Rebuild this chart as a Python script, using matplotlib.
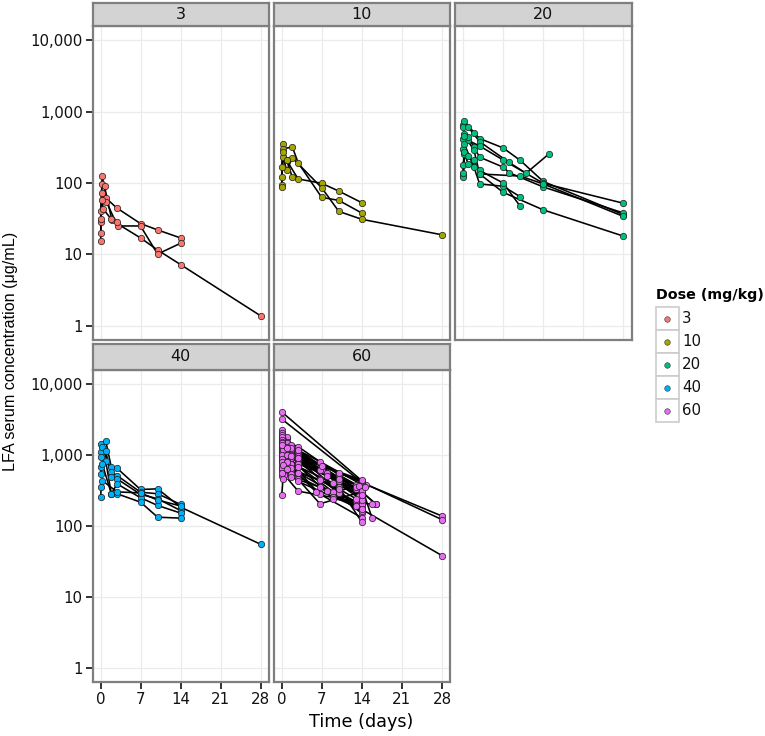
import matplotlib
matplotlib.use("Agg")
import matplotlib.pyplot as plt
from matplotlib.ticker import NullLocator, FixedLocator, FixedFormatter
from matplotlib.patches import Rectangle
from matplotlib.lines import Line2D

# ---------------- data ----------------
doses = ["3", "10", "20", "40", "60"]
dose_colors = ["#F8766D", "#A3A500", "#00BF7D", "#00B0F6", "#E76BF3"]

x_ticks = [0, 7, 14, 21, 28]
y_ticks = [1, 10, 100, 1000, 10000]
y_tick_labels = ["1", "10", "100", "1,000", "10,000"]

dose3_days = [
    [0.04, 0.3, 1, 2.8, 7, 10, 14],
    [0.04, 0.25, 0.7, 2, 7, 10, 14, 28],
    [0.04, 0.25, 1, 3, 7, 10, 14],
    [0.04, 0.1, 0.25, 0.5, 1.9, 2.9],
]
dose3_conc = [
    [40, 125, 61, 45, 27, 22, 17],
    [20, 97, 90, 30, 17, 11.5, 7.2, 1.38],
    [28, 72, 55, 25, 25, 10.1, 14.3],
    [15.6, 31, 58, 43, 31, 28],
]

dose10_days = [
    [0.04, 0.25, 0.9, 2.9, 7, 10, 14],
    [0.04, 0.25, 1.9, 2.9, 7, 10, 14],
    [0.04, 0.25, 0.9, 1.9, 7, 10, 14, 28],
    [0.04, 0.25, 0.9, 1.9],
]
dose10_conc = [
    [94, 355, 207, 114, 99, 77, 53],
    [88, 303, 318, 192, 63, 57, 38],
    [120, 235, 150, 225, 86, 40, 31, 18.8],
    [167, 270, 207, 120],
]

dose20_days = [
    [0.04, 0.25, 1.9, 2.9, 7, 10, 14, 28],
    [0.04, 0.9, 2.9, 8, 11, 15],
    [0.04, 0.25, 0.9, 2.9, 7, 14, 28],
    [0.04, 0.9, 1.9, 2.9, 7, 8, 14, 28],
    [0.04, 0.25, 0.9, 1.9, 2.9, 10, 14, 28],
    [0.04, 0.25, 1.9, 2.9, 7, 10],
    [0.04, 0.25, 0.9, 2.9, 7, 10],
    [0.04, 0.25, 1.9, 2.9, 7, 14, 28],
]
dose20_conc = [
    [640, 738, 510, 420, 310, 207, 105, 36],
    [600, 607, 380, 195, 137, 256],
    [420, 490, 395, 330, 210, 99, 52],
    [300, 440, 318, 230, 167, 140, 88, 38],
    [180, 256, 185, 207, 134, 125, 97, 34],
    [130, 350, 167, 97, 90, 64],
    [120, 270, 240, 150, 100, 47],
    [140, 460, 290, 134, 74, 42, 18],
]

dose40_days = [
    [0.04, 0.9, 1.9, 2.9, 7, 10, 14, 28],
    [0.04, 0.3, 1.9, 2.9, 7, 10, 14],
    [0.04, 0.9, 1.9, 2.9, 7, 10, 14],
    [0.04, 0.9, 1.9, 2.9, 7, 10, 14],
    [0.04, 0.3, 1.9, 2.9, 7, 10, 14],
    [0.04, 0.1, 0.3, 2.9, 7, 10, 14],
]
dose40_conc = [
    [1420, 1578, 665, 645, 324, 331, 183, 55],
    [1080, 1300, 567, 509, 297, 282, 200],
    [920, 1140, 482, 457, 277, 240, 164],
    [665, 826, 282, 389, 248, 193, 151],
    [537, 743, 282, 282, 215, 132, 128],
    [252, 349, 433, 300, 290, 230, 190],
]

dose60_days = [
    [0.04, 14.8, 28],
    [0.04, 14, 28],
    [0.04, 0.9, 2.9, 7, 13.5, 16.5],
    [0.04, 0.9, 1.7, 7, 14],
    [0.04, 0.9, 2.9, 10, 13],
    [0.04, 0.25, 2.9, 8, 14],
    [0.04, 1.7, 6.7, 14],
    [0.04, 0.9, 2.9, 10, 13],
    [0.04, 1.7, 6.7, 14, 15.8],
    [0.04, 0.9, 2.9, 10, 14],
    [0.04, 1.7, 8, 14],
    [0.04, 0.9, 2.9, 9, 14],
    [0.04, 1.7, 6.7, 13],
    [0.04, 0.9, 2.9, 6, 14],
    [0.04, 1.7, 6.7, 10, 14],
    [0.04, 0.9, 2.9, 28],
    [0.04, 0.9, 2.9, 6.7, 14, 16.5],
    [0.04, 1.7, 8, 14],
    [0.04, 0.5, 2.9, 9, 13],
    [0.04, 0.25, 1.7, 6.7, 14],
    [0.04, 2.9, 10, 14],
    [0.04, 1.7, 6.7, 14],
    [0.04, 0.9, 2.9, 9, 15.8],
    [0.04, 0.9, 2.9, 14],
    [0.04, 1.7, 2.9, 13.5],
    [0.04, 0.9, 1.7, 14],
    [0.04, 0.9, 2.9, 13],
    [0.04, 0.25, 1.7, 14],
    [0.04, 0.9, 2.9, 13.5],
    [0.04, 1.7, 2.9, 14],
    [0.04, 0.9, 2.9, 9, 14],
    [0.04, 0.25, 1.7, 10, 13],
    [0.04, 0.9, 2.9, 14],
    [0.04, 1.7, 2.9, 7, 14],
    [0.04, 0.9, 2.9, 10, 14.5],
]
dose60_conc = [
    [4000, 380, 137],
    [3180, 410, 122],
    [2200, 1700, 1000, 600, 330, 200],
    [2000, 1800, 1200, 700, 410],
    [1800, 1500, 1300, 520, 380],
    [1700, 1600, 900, 550, 250],
    [1500, 1100, 450, 180],
    [1400, 1250, 850, 420, 330],
    [1300, 1050, 600, 350, 128],
    [1200, 1100, 800, 290, 200],
    [1100, 900, 500, 280],
    [1000, 850, 700, 300, 150],
    [950, 750, 276, 350],
    [900, 650, 540, 300, 130],
    [850, 600, 444, 350, 113],
    [800, 700, 560, 38],
    [700, 500, 450, 204, 300, 200],
    [600, 540, 310, 160],
    [500, 520, 307, 250, 220],
    [273, 450, 480, 350, 200],
    [1900, 1000, 550, 420],
    [1750, 1300, 800, 380],
    [1350, 950, 700, 240, 200],
    [1600, 1450, 1100, 300],
    [1500, 1350, 1050, 260],
    [1250, 1300, 1150, 230],
    [1150, 1200, 950, 190],
    [1050, 1150, 1000, 420],
    [980, 1000, 900, 360],
    [880, 950, 750, 310],
    [780, 800, 680, 400, 270],
    [650, 720, 640, 330, 240],
    [560, 620, 420, 170],
    [1450, 1250, 1150, 700, 440],
    [1350, 1250, 900, 450, 350],
]

all_days = [dose3_days, dose10_days, dose20_days, dose40_days, dose60_days]
all_conc = [dose3_conc, dose10_conc, dose20_conc, dose40_conc, dose60_conc]

# ---------------- layout ----------------
W, H = 765, 736
fig = plt.figure(figsize=(W / 100, H / 100), dpi=100)
fig.patch.set_facecolor("white")


def rect(x0, x1, ytop, ybot):
    return [x0 / W, 1 - ybot / H, (x1 - x0) / W, (ybot - ytop) / H]


col_x = [(92.5, 268.5), (273.5, 450.0), (455.0, 631.5)]
row_plot = [(26.0, 340.0), (369.5, 682.0)]
row_strip = [(2.5, 26.0), (343.5, 369.5)]
panel_pos = [(0, 0), (1, 0), (2, 0), (0, 1), (1, 1)]

border_col = "#7F7F7F"
tick_fs = 10.8
strip_fs = 11.5
text_col = "#111111"

for i, dose in enumerate(doses):
    c, r = panel_pos[i]
    x0, x1 = col_x[c]
    ax = fig.add_axes(rect(x0, x1, *row_plot[r]))
    ax.set_yscale("log")
    ax.set_xlim(-1.4, 29.4)
    ax.set_ylim(10 ** -0.2, 10 ** 4.2)
    ax.xaxis.set_major_locator(FixedLocator(x_ticks))
    ax.yaxis.set_major_locator(FixedLocator(y_ticks))
    ax.yaxis.set_major_formatter(FixedFormatter(y_tick_labels))
    ax.yaxis.set_minor_locator(NullLocator())
    ax.xaxis.set_minor_locator(NullLocator())
    ax.grid(True, which="major", color="#EBEBEB", lw=0.9)
    ax.set_axisbelow(True)
    for s in ax.spines.values():
        s.set_color(border_col)
        s.set_linewidth(1.6)
    ax.tick_params(length=5, width=1.3, color="#222222", labelsize=tick_fs,
                   labelcolor=text_col, pad=2)
    if c != 0:
        ax.tick_params(left=False, labelleft=False)
    if r == 0:
        ax.tick_params(bottom=False, labelbottom=False)

    for t, v in zip(all_days[i], all_conc[i]):
        ax.plot(t, v, "-", color="black", lw=1.15, zorder=2, solid_capstyle="round")
    for t, v in zip(all_days[i], all_conc[i]):
        ax.plot(t, v, "o", ls="none", mfc=dose_colors[i], mec="#1A1A1A",
                mew=0.5, ms=4.6, zorder=3)

    sx = fig.add_axes(rect(x0, x1, *row_strip[r]))
    sx.set_facecolor("#D3D3D3")
    sx.set_xticks([])
    sx.set_yticks([])
    for s in sx.spines.values():
        s.set_color(border_col)
        s.set_linewidth(1.6)
    sx.text(0.5, 0.5, dose, ha="center", va="center", fontsize=strip_fs,
            color=text_col, transform=sx.transAxes)

# axis titles
fig.text(361 / W, 1 - 722 / H, "Time (days)", ha="center", va="center",
         fontsize=12.7, color="black")
fig.text(11 / W, 1 - 351 / H, "LFA serum concentration (\u03bcg/mL)",
         ha="center", va="center", rotation=90, fontsize=11.6,
         family=["Liberation Sans", "DejaVu Sans"], color="black")

# legend
lax = fig.add_axes([0, 0, 1, 1], facecolor="none")
lax.set_xlim(0, W)
lax.set_ylim(H, 0)
lax.axis("off")
lax.text(656, 295, "Dose (mg/kg)", ha="left", va="center", fontsize=10.3,
         fontweight="bold", color="black")
key_top = 307.0
key_h = 23.0
for i, dose in enumerate(doses):
    y0 = key_top + i * key_h
    lax.add_patch(Rectangle((656, y0), 23, key_h, facecolor="white",
                            edgecolor="#CCCCCC", lw=1.2))
    lax.add_line(Line2D([667.5], [y0 + key_h / 2], marker="o", ls="none",
                        mfc=dose_colors[i], mec="#333333", mew=0.4, ms=4.0))
    lax.text(682, y0 + key_h / 2, dose, ha="left", va="center",
             fontsize=tick_fs, color=text_col)

fig.savefig("out.png", dpi=100, facecolor="white")
